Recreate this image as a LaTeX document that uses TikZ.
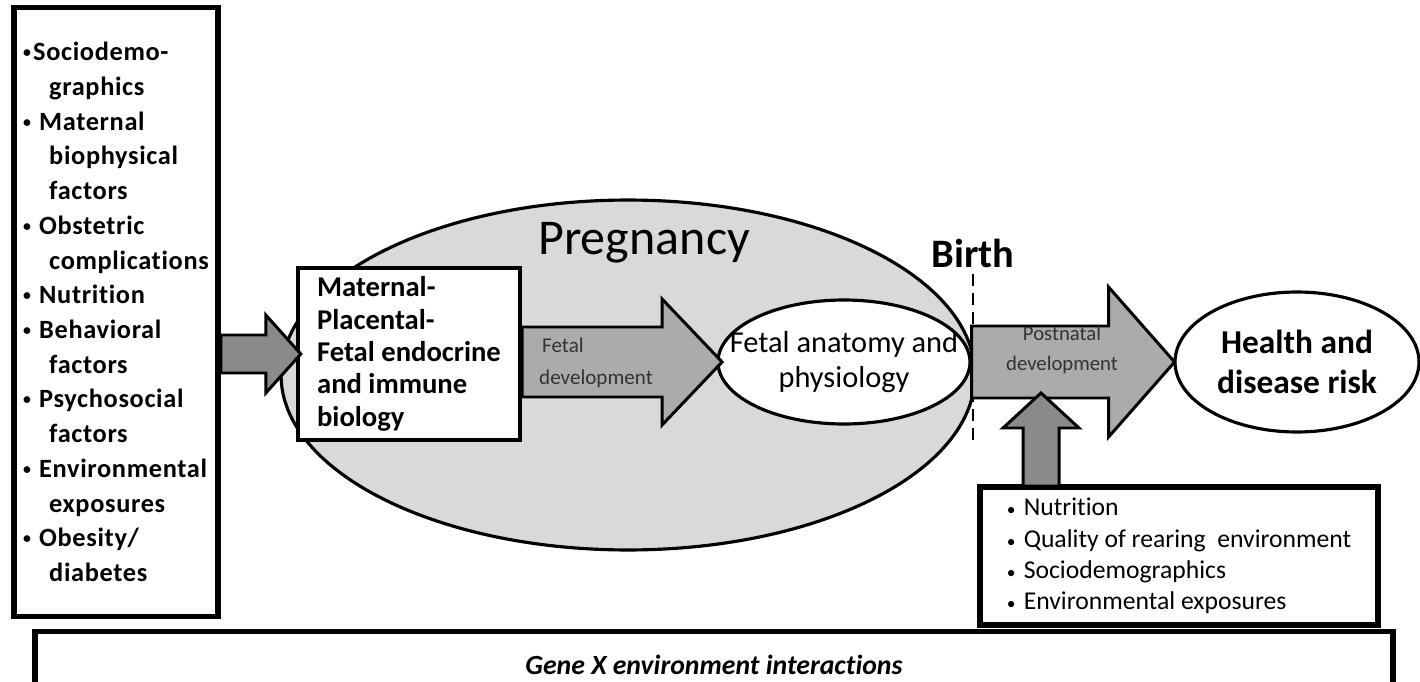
\documentclass[tikz,border=0pt]{standalone}
\usepackage{fontspec}
\setmainfont{Carlito}[Ligatures=NoCommon]
\usepackage{tikz}
\usetikzlibrary{shapes.geometric,calc}
\definecolor{preggray}{HTML}{D9D9D9}
\definecolor{arrowgray}{HTML}{ABABAB}
\definecolor{darkgray}{HTML}{8A8A8A}
\definecolor{lblgray}{HTML}{333333}
\newcommand{\fatarrow}[6][]{% start, shaft length, half shaft, half head, head length
  \draw[fatarr,#1] (#2) ++(0,-#4) -- ++(#3,0) -- ++(0,#4-#5) -- ++(#6,#5)
    -- ++(-#6,#5) -- ++(0,#4-#5) -- ++(-#3,0) -- cycle;}
\newcommand{\bl}{\makebox[0.32cm][l]{\raisebox{0.12em}{\fontsize{9}{9}\selectfont\textbullet}}}
\newcommand{\blow}{\makebox[0.34cm][l]{\fontsize{10}{10}\selectfont\textbullet}}
\newcommand{\ind}{\hspace*{0.52cm}}
\tikzset{
  fatarr/.style={draw=black,line width=1.7pt,line join=miter},
  factbox/.style={draw=black,line width=3.2pt,fill=white,inner sep=0pt},
  oval/.style={ellipse,draw=black,line width=1.8pt,fill=white,inner sep=0pt}
}

\begin{document}
\begin{tikzpicture}[x=0.02cm,y=-0.02cm]
  \useasboundingbox[fill=white] (0,0) rectangle (1420,682);
  \node[oval,fill=preggray,minimum width=13.88cm,minimum height=7.0cm] (preg) at (628,375) {};
  \node[font=\fontsize{28.5}{30}\selectfont] (pregtitle) at (644,243) {Pregnancy};
  \node[factbox,minimum width=4.08cm,minimum height=12.18cm,align=left,
    font=\bfseries\fontsize{15}{19.76}\selectfont\addfontfeature{LetterSpace=2.5}] (facts) at (116,312)
    {\makebox[0.2cm][l]{\raisebox{0.12em}{\fontsize{9}{9}\selectfont\textbullet}}Sociodemo-\\
     \ind graphics\\
     \bl Maternal\\
     \ind biophysical\\
     \ind factors\\
     \bl Obstetric\\
     \ind complications\\
     \bl Nutrition\\
     \bl Behavioral\\
     \ind factors\\
     \bl Psychosocial\\
     \ind factors\\
     \bl Environmental\\
     \ind exposures\\
     \bl Obesity/\\
     \ind diabetes};
  \node[draw=black,line width=2.4pt,fill=white,minimum width=4.44cm,minimum height=3.44cm,
    align=left,font=\bfseries\fontsize{16.3}{18.4}\selectfont] (mpf) at (409,354)
    {Maternal-\\Placental-\\Fetal endocrine\\and immune\\biology};
  \node[oval,minimum width=5.04cm,minimum height=2.48cm] (fetal) at (844,362) {};
  \node[align=center,font=\fontsize{17.3}{19.6}\selectfont] (fetaltxt) at (fetal) {Fetal anatomy and\\physiology};
  \node[oval,minimum width=4.88cm,minimum height=2.8cm] (health) at (1297,362) {};
  \node[align=center,font=\bfseries\fontsize{19}{22.5}\selectfont] (healthtxt) at (health) {Health and\\disease risk};
  \node[factbox,minimum width=7.96cm,minimum height=2.76cm,align=left,
    font=\fontsize{14.6}{17.9}\selectfont] (postfacts) at (1179,556)
    {\blow Nutrition\\
     \blow Quality of rearing\ \ environment\\
     \blow Sociodemographics\\
     \blow Environmental exposures};
  \node[factbox,minimum width=27.16cm,minimum height=1.34cm,
    font=\bfseries\itshape\fontsize{15.8}{18}\selectfont] (gxe) at (714,665)
    {Gene X environment interactions};
  \node[font=\bfseries\fontsize{23}{25}\selectfont] (birth) at (973,253) {Birth};
  \coordinate (birthend) at (973,440);
  \draw[line width=1.3pt,dash pattern=on 7pt off 4pt] (birth.south) -- (birthend);
  \fatarrow[fill=darkgray]{facts.east |- mpf.west}{45}{19}{39}{35}
  \fatarrow[fill=arrowgray]{mpf.east |- fetal.west}{140}{35}{63}{60}
  \fatarrow[fill=arrowgray]{fetal.east}{137}{36}{75}{66}
  \coordinate (upfoot) at (1041,486);
  \fatarrow[fill=darkgray,rotate=90]{upfoot}{58}{18}{38}{35}
  \node[align=left,text=lblgray,font=\fontsize{12}{18.5}\selectfont] (fetallbl) at (596,363)
    {\hspace*{0.06cm}Fetal\\development};
  \node[align=center,text=lblgray,font=\fontsize{11.8}{17.5}\selectfont] (postlbl) at (1062,350)
    {Postnatal\\development};
\end{tikzpicture}
\end{document}
